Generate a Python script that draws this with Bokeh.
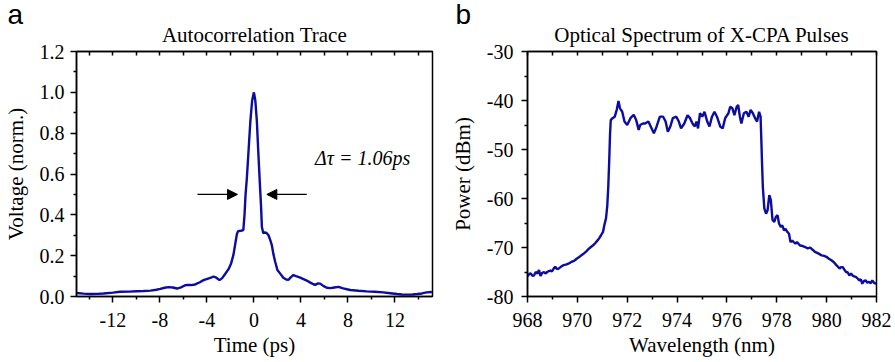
from bokeh.plotting import figure
from bokeh.layouts import row
from bokeh.models import (LinearAxis, FixedTicker, Range1d, Label, Arrow,
                          NormalHead, Title)
from bokeh.embed import file_html
from bokeh.resources import INLINE

# ---------------- data: autocorrelation trace ----------------
ac_time = [-15.1, -14.5, -13.9, -13.3, -12.8, -12.0, -11.4, -10.6, -10.0, -9.4,
           -8.8, -8.3, -7.97, -7.6, -7.27, -6.9, -6.55, -6.2, -5.9, -5.7,
           -5.35, -5.0, -4.6, -4.29, -3.9, -3.6, -3.44, -3.2, -2.93, -2.7,
           -2.45, -2.16, -1.95, -1.74, -1.59, -1.45, -1.35, -1.1, -0.9, -0.8,
           -0.71, -0.6, -0.45, -0.3, -0.15, 0.0, 0.12, 0.25, 0.38, 0.5,
           0.6, 0.68, 0.8, 0.95, 1.1, 1.24, 1.4, 1.53, 1.65, 1.81,
           2.0, 2.24, 2.5, 2.75, 2.95, 3.15, 3.37, 3.65, 3.94, 4.22,
           4.5, 4.8, 5.07, 5.22, 5.45, 5.64, 5.9, 6.2, 6.5, 6.85,
           7.2, 7.6, 8.2, 8.9, 9.6, 10.3, 11.0, 11.6, 12.2, 12.6,
           13.0, 13.5, 13.9, 14.3, 14.7, 15.15]
ac_volt = [0.017, 0.014, 0.012, 0.013, 0.015, 0.019, 0.023, 0.024, 0.026, 0.027,
           0.029, 0.033, 0.037, 0.043, 0.046, 0.044, 0.039, 0.045, 0.054, 0.057,
           0.056, 0.059, 0.070, 0.080, 0.088, 0.094, 0.098, 0.092, 0.080, 0.090,
           0.110, 0.134, 0.160, 0.205, 0.257, 0.305, 0.320, 0.322, 0.325, 0.400,
           0.500, 0.580, 0.720, 0.860, 0.960, 1.000, 0.960, 0.860, 0.700, 0.560,
           0.450, 0.340, 0.310, 0.315, 0.310, 0.300, 0.275, 0.250, 0.210, 0.170,
           0.130, 0.112, 0.092, 0.083, 0.082, 0.095, 0.105, 0.098, 0.092, 0.085,
           0.078, 0.068, 0.060, 0.057, 0.064, 0.063, 0.052, 0.043, 0.041, 0.044,
           0.047, 0.040, 0.032, 0.028, 0.025, 0.023, 0.020, 0.016, 0.012, 0.010,
           0.009, 0.010, 0.012, 0.015, 0.020, 0.022]

# ---------------- data: optical spectrum ----------------
sp_wl = [968.0, 968.07, 968.13, 968.2, 968.26, 968.33, 968.4, 968.46, 968.52, 968.59,
         968.66, 968.72, 968.79, 968.86, 968.92, 968.98, 969.05, 969.11, 969.18, 969.25,
         969.35, 969.44, 969.54, 969.64, 969.74, 969.84, 969.9, 969.97, 970.06, 970.16,
         970.22, 970.29, 970.36, 970.43, 970.52, 970.62, 970.72, 970.82, 970.89, 970.95,
         971.03, 971.08, 971.15, 971.2, 971.24, 971.28, 971.31, 971.34, 971.41, 971.5,
         971.58, 971.65, 971.71, 971.8, 971.89, 972.0, 972.13, 972.26, 972.36, 972.46,
         972.52, 972.63, 972.72, 972.85, 972.98, 973.07, 973.18, 973.31, 973.44, 973.54,
         973.63, 973.73, 973.83, 973.97, 974.07, 974.16, 974.29, 974.42, 974.52, 974.62,
         974.71, 974.78, 974.84, 974.92, 975.01, 975.1, 975.21, 975.3, 975.4, 975.5,
         975.6, 975.73, 975.83, 975.93, 976.06, 976.13, 976.22, 976.3, 976.39, 976.45,
         976.52, 976.58, 976.68, 976.78, 976.87, 976.95, 977.04, 977.13, 977.21, 977.29,
         977.35, 977.38, 977.41, 977.44, 977.5, 977.57, 977.63, 977.7, 977.76, 977.83,
         977.9, 977.96, 978.03, 978.09, 978.16, 978.22, 978.29, 978.35, 978.42, 978.49,
         978.55, 978.62, 978.68, 978.75, 978.81, 978.88, 978.94, 979.04, 979.14, 979.24,
         979.34, 979.4, 979.47, 979.53, 979.66, 979.8, 979.9, 979.99, 980.09, 980.19,
         980.29, 980.39, 980.45, 980.52, 980.58, 980.65, 980.72, 980.78, 980.85, 980.91,
         980.98, 981.04, 981.1, 981.17, 981.24, 981.3, 981.37, 981.43, 981.5, 981.57,
         981.63, 981.7, 981.77, 981.83, 981.9, 982.0]
sp_dbm = [-75.9, -75.4, -75.3, -75.8, -75.7, -75.0, -75.3, -74.6, -75.8, -75.2,
          -75.0, -75.3, -75.0, -74.8, -74.7, -74.9, -74.3, -73.9, -74.4, -74.3,
          -73.9, -73.6, -73.5, -73.3, -73.0, -72.8, -72.6, -72.3, -72.0, -71.6,
          -71.4, -71.1, -70.8, -70.4, -70.0, -69.6, -69.1, -68.5, -68.0, -67.5,
          -66.8, -65.5, -64.0, -61.5, -57.6, -52.0, -47.0, -44.0, -43.6, -43.3,
          -41.9, -40.1, -41.6, -42.3, -44.3, -45.0, -43.6, -42.9, -44.0, -46.0,
          -45.0, -44.7, -44.7, -44.3, -45.7, -46.7, -45.3, -43.3, -43.3, -44.3,
          -46.4, -45.3, -43.6, -43.3, -44.3, -45.7, -44.7, -43.0, -43.6, -44.7,
          -45.3, -44.3, -45.7, -42.6, -43.3, -42.3, -44.3, -45.3, -43.3, -42.3,
          -43.3, -45.3, -45.7, -43.6, -42.6, -41.3, -41.6, -43.0, -41.3, -40.9,
          -43.3, -44.7, -42.6, -42.3, -43.3, -41.9, -42.6, -43.6, -44.3, -42.3,
          -43.3, -48.0, -53.0, -57.6, -62.0, -63.1, -62.4, -59.3, -60.3, -64.4,
          -64.8, -63.8, -63.4, -65.1, -65.8, -65.5, -66.5, -66.2, -66.8, -67.2,
          -68.9, -68.6, -68.9, -69.2, -68.9, -69.3, -69.6, -69.7, -69.9, -70.2,
          -70.0, -70.3, -70.6, -70.9, -71.2, -71.6, -71.7, -71.9, -72.3, -72.6,
          -73.0, -73.6, -73.9, -74.3, -74.0, -74.0, -74.6, -75.0, -75.1, -75.7,
          -75.3, -75.7, -75.9, -76.0, -76.3, -76.7, -76.5, -77.4, -76.8, -76.7,
          -77.2, -77.0, -77.3, -76.7, -77.2, -77.4]

# ticks
ac_xticks = [-12, -8, -4, 0, 4, 8, 12]
ac_xminor = [-14, -10, -6, -2, 2, 6, 10, 14]
ac_yticks = [0.0, 0.2, 0.4, 0.6, 0.8, 1.0, 1.2]
ac_yminor = [0.1, 0.3, 0.5, 0.7, 0.9, 1.1]
sp_xticks = [968, 970, 972, 974, 976, 978, 980, 982]
sp_xminor = [969, 971, 973, 975, 977, 979, 981]
sp_yticks = [-80, -70, -60, -50, -40, -30]
sp_yminor = [-75, -65, -55, -45, -35]

# annotations
arrow_left = [-4.8, -1.4]
arrow_right = [4.5, 1.1]
arrow_y = 0.5
fwhm_text = "\u0394\u03c4 = 1.06ps"
fwhm_pos = [5.2, 0.68]

SERIF = "Liberation Serif"
LINE = "#0c0ca0"


def fmt(ticks, digits):
    return {t: (f"{t:.{digits}f}") for t in ticks}


def panel_title(p, main_text, letter, letter_offset):
    main = Title(text=main_text, align="center", text_font=SERIF,
                 text_font_size="21px", text_font_style="normal",
                 text_color="black", standoff=10)
    p.add_layout(main, "above")
    lt = Title(text=letter, align="left", offset=letter_offset,
               text_font="Liberation Sans", text_font_size="28px",
               text_font_style="normal", text_color="black", standoff=0)
    try:
        lt.standoff = -28
    except Exception:
        lt.standoff = 0
    p.title = lt


def style(p, xt, xm, yt, ym, xdig, ydig, ylab_standoff, yaxis_standoff):
    bottom = p.below[0]
    left = p.left[0]
    for ax in (bottom, left):
        ax.major_label_text_font = SERIF
        ax.major_label_text_font_size = "20px"
        ax.major_label_text_color = "black"
        ax.axis_label_text_font = SERIF
        ax.axis_label_text_font_size = "21px"
        ax.axis_label_text_font_style = "normal"
        ax.axis_label_text_color = "black"
        ax.axis_line_width = 1.5
        ax.axis_line_color = "black"
        ax.major_tick_line_color = "black"
        ax.minor_tick_line_color = "black"
        ax.major_tick_line_width = 1.5
        ax.minor_tick_line_width = 1.5
        ax.major_tick_in = 0
        ax.major_tick_out = 6
        ax.minor_tick_in = 0
        ax.minor_tick_out = 3
    bottom.ticker = FixedTicker(ticks=xt, minor_ticks=xm)
    left.ticker = FixedTicker(ticks=yt, minor_ticks=ym)
    bottom.major_label_overrides = fmt(xt, xdig)
    left.major_label_overrides = fmt(yt, ydig)
    bottom.major_label_standoff = 10
    bottom.axis_label_standoff = 3
    left.major_label_standoff = ylab_standoff
    left.axis_label_standoff = yaxis_standoff
    top = LinearAxis(ticker=FixedTicker(ticks=sorted(xt + xm)),
                     major_label_text_font_size="1px",
                     major_label_text_color=None,
                     major_label_standoff=0,
                     major_tick_in=4, major_tick_out=0,
                     minor_tick_in=0, minor_tick_out=0,
                     axis_line_width=1.5, major_tick_line_width=1.5)
    p.add_layout(top, "above")
    p.outline_line_color = "black"
    p.outline_line_width = 1.5
    p.outline_line_alpha = 1.0
    p.grid.visible = False
    p.background_fill_color = "white"
    p.border_fill_color = "white"
    return bottom, left


# ---------------- panel a ----------------
pa = figure(width=447, height=362, output_backend="svg", toolbar_location=None,
            x_range=Range1d(-15.1, 15.2), y_range=Range1d(0, 1.2),
            min_border_left=76, min_border_right=15,
            min_border_top=51, min_border_bottom=66)
xa, ya = style(pa, ac_xticks, ac_xminor, ac_yticks, ac_yminor, 0, 1, 6, 9)
panel_title(pa, "Autocorrelation Trace", "a", -69)
xa.axis_label = "Time (ps)"
ya.axis_label = "Voltage (norm.)"
pa.line(ac_time, ac_volt, line_color=LINE, line_width=2.4)

pa.add_layout(Arrow(end=NormalHead(size=10, fill_color="black", line_color="black"),
                    x_start=arrow_left[0], x_end=arrow_left[1],
                    y_start=arrow_y, y_end=arrow_y, line_width=1.3))
pa.add_layout(Arrow(end=NormalHead(size=10, fill_color="black", line_color="black"),
                    x_start=arrow_right[0], x_end=arrow_right[1],
                    y_start=arrow_y, y_end=arrow_y, line_width=1.3))
pa.add_layout(Label(x=fwhm_pos[0], y=fwhm_pos[1], text=fwhm_text,
                    text_font=SERIF, text_font_size="20px", text_color="black",
                    text_font_style="italic", text_baseline="middle"))

# ---------------- panel b ----------------
pb = figure(width=448, height=362, output_backend="svg", toolbar_location=None,
            x_range=Range1d(968, 982), y_range=Range1d(-80, -30),
            min_border_left=73, min_border_right=19,
            min_border_top=51, min_border_bottom=66)
xb, yb = style(pb, sp_xticks, sp_xminor, sp_yticks, sp_yminor, 0, 0, 8, 9)
panel_title(pb, "Optical Spectrum of X-CPA Pulses", "b", -72)
xb.axis_label = "Wavelength (nm)"
yb.axis_label = "Power (dBm)"
pb.line(sp_wl, sp_dbm, line_color=LINE, line_width=2.4)

layout = row(pa, pb)
open("out.html", "w").write(file_html(layout, INLINE))
